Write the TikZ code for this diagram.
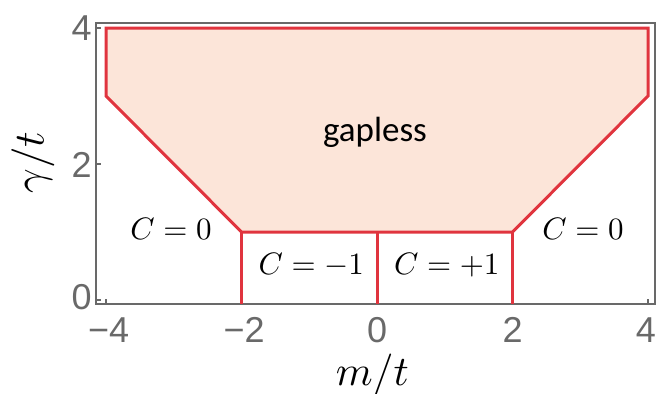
\documentclass[tikz,border=0pt]{standalone}
\usepackage{fontspec}
\setsansfont{Liberation Sans}
\newfontfamily\gapfont{Carlito}
\usepackage{graphicx}
\definecolor{regred}{RGB}{224,52,62}
\definecolor{regfill}{RGB}{252,229,217}
\definecolor{axgray}{RGB}{105,105,105}
\begin{document}
\begin{tikzpicture}[x=67.75pt,y=68pt,
  redline/.style={draw=regred, line width=3pt},
  framebox/.style={draw=axgray, line width=1.6pt},
  ticklbl/.style={font=\sffamily\fontsize{36}{36}\selectfont, text=axgray, inner sep=0pt},
  mathlbl/.style={inner sep=0pt},
  tickmark/.style={draw=axgray, line width=1.2pt}]
\useasboundingbox (-5.565,-1.368) rectangle (4.118,4.412);
% region polygon
\coordinate (p1) at (-4,4);
\coordinate (p2) at (4,4);
\coordinate (p3) at (4,3);
\coordinate (p4) at (2,1);
\coordinate (p5) at (-2,1);
\coordinate (p6) at (-4,3);
\coordinate (m0) at (0,1);
\coordinate (b1) at (-2,-0.06);
\coordinate (b2) at (0,-0.06);
\coordinate (b3) at (2,-0.06);
\fill[regfill] (p1) -- (p2) -- (p3) -- (p4) -- (p5) -- (p6) -- cycle;
% frame
\draw[framebox] (-4.15,-0.06) rectangle (4.10,4.07);
% ticks
\foreach \xx in {-4,-2,0,2,4} \draw[tickmark] (\xx,-0.06) -- ++(0,0.08);
\foreach \yy in {0,2,4} \draw[tickmark] (-4.15,\yy) -- ++(0.08,0);
% boundaries
\draw[redline, line join=miter] (p1) -- (p2) -- (p3) -- (p4) -- (p5) -- (p6) -- cycle;
\draw[redline] (p5) -- (b1);
\draw[redline] (m0) -- (b2);
\draw[redline] (p4) -- (b3);
% tick labels
\node[ticklbl, anchor=east] (y4) at (-4.21,4.0) {4};
\node[ticklbl, anchor=east] (y2) at (-4.21,1.98) {2};
\node[ticklbl, anchor=east] (y0) at (-4.21,0.04) {0};
\node[ticklbl] (x1) at (-3.96,-0.44) {−4};
\node[ticklbl] (x2) at (-1.96,-0.44) {−2};
\node[ticklbl] (x3) at (0,-0.44) {0};
\node[ticklbl] (x4) at (2,-0.44) {2};
\node[ticklbl] (x5) at (3.97,-0.44) {4};
% axis labels
\node[inner sep=0pt, anchor=base] (xl) at (-0.07,-1.25) {\scalebox{4.2}{$m/t$}};
\node[inner sep=0pt, rotate=90] (yl) at (-5.08,2.02) {\scalebox{4.3}{$\gamma/t$}};
% region labels
\node[font=\gapfont\fontsize{35}{35}\selectfont, inner sep=0pt] (gap) at (-0.03,2.46) {gapless};
\node[mathlbl] (c0l) at (-3.04,1.04) {\scalebox{3.1}{$C=0$}};
\node[mathlbl] (c0r) at (3.04,1.04) {\scalebox{3.1}{$C=0$}};
\node[mathlbl] (cm) at (-0.97,0.51) {\scalebox{3.1}{$C=-1$}};
\node[mathlbl] (cp) at (1.03,0.51) {\scalebox{3.1}{$C=+1$}};
\end{tikzpicture}
\end{document}
